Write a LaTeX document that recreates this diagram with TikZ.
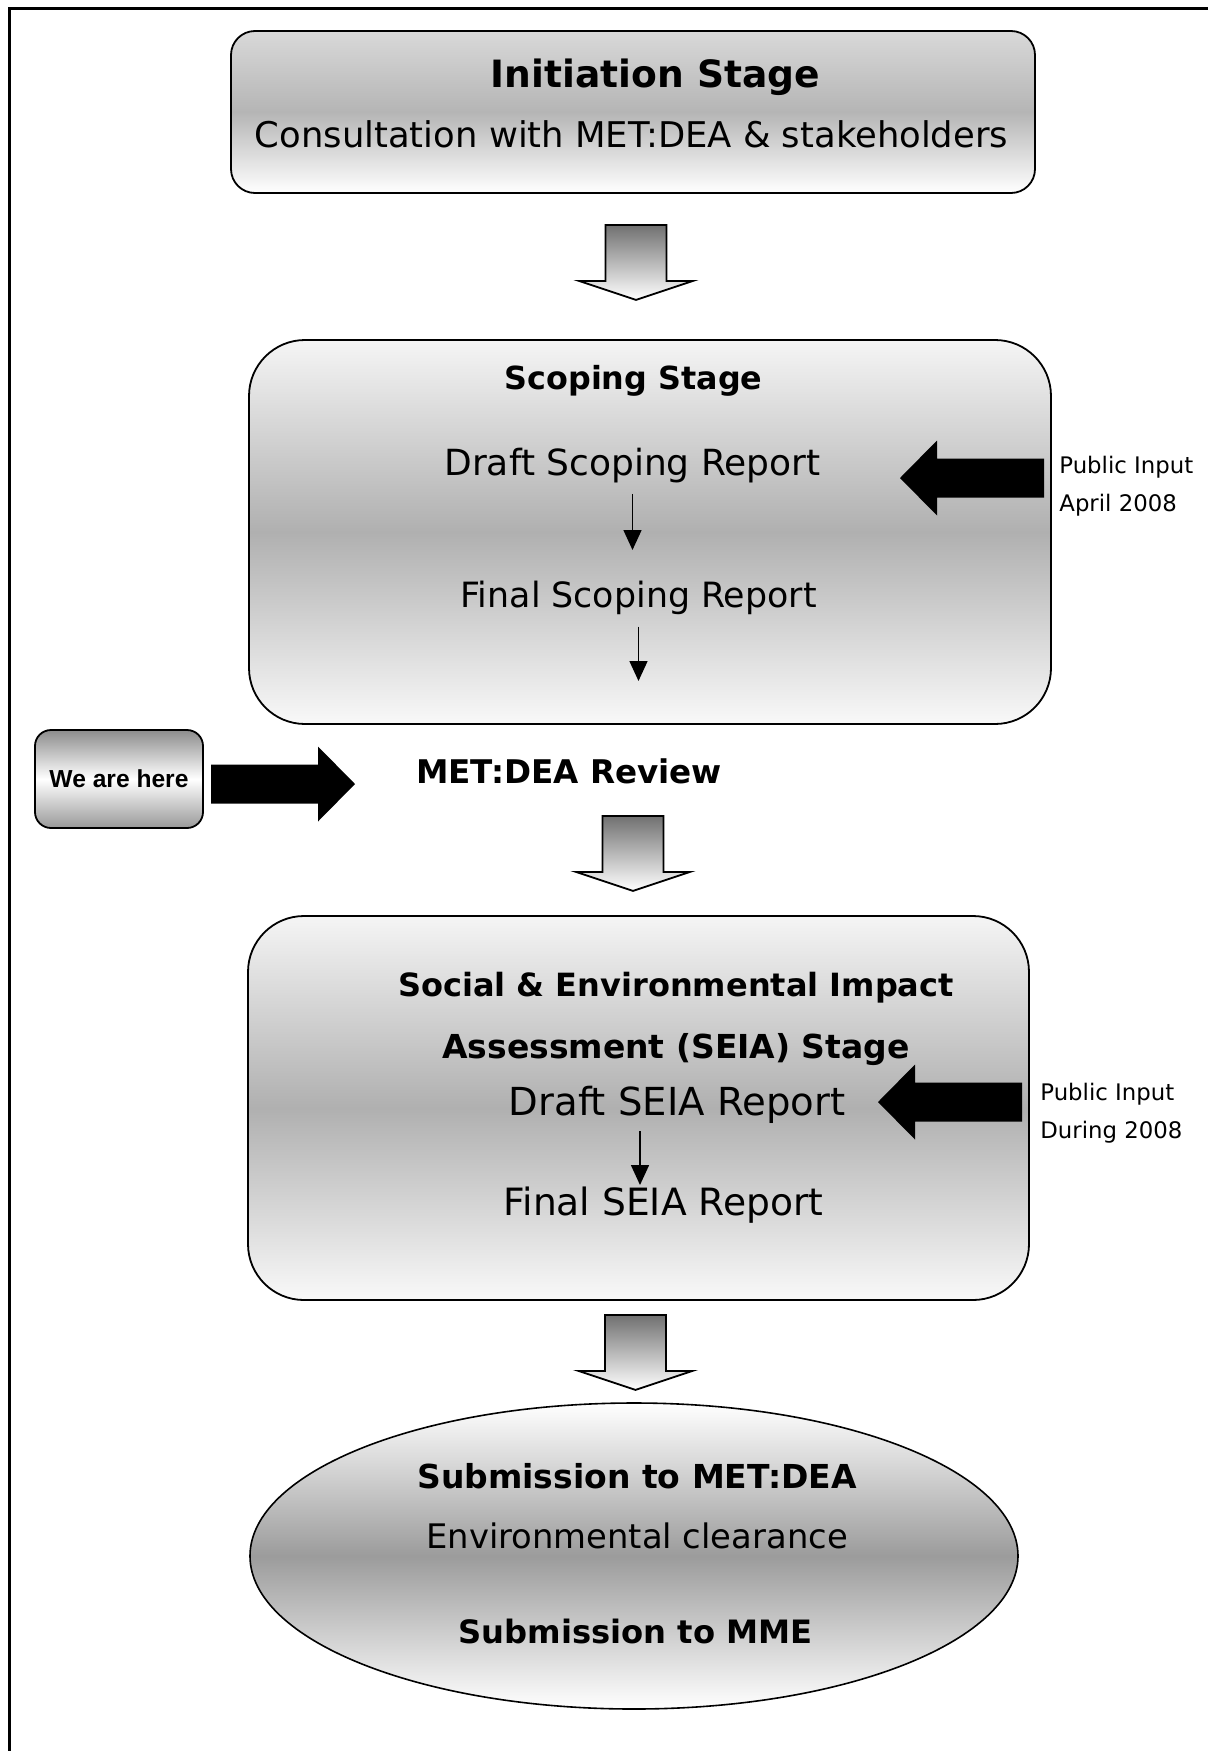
\documentclass[tikz,border=0pt]{standalone}
\usepackage{fontspec}
\setmainfont{DejaVu Sans}
\newfontfamily\arialfont{Liberation Sans}
\usetikzlibrary{arrows.meta,shapes.geometric}
\tikzset{
  stagebox/.style={
    draw,
    line width=0.9pt,
    rounded corners=28pt,
    inner sep=0pt,
    top color=gray!8,
    bottom color=gray!5,
    middle color=gray!62
  },
  initbox/.style={
    stagebox,
    rounded corners=12pt,
    top color=gray!30,
    bottom color=white,
    middle color=gray!58
  },
  herebox/.style={
    draw,
    line width=0.9pt,
    rounded corners=8pt,
    minimum width=84pt,
    minimum height=49pt,
    top color=gray!90,
    bottom color=gray!80,
    middle color=white,
    font=\arialfont\bfseries\fontsize{12.3}{14}\selectfont
  },
  endnode/.style={
    draw,
    ellipse,
    line width=0.8pt,
    inner sep=0pt,
    minimum width=384pt,
    minimum height=153pt,
    top color=white,
    bottom color=white,
    middle color=gray!78
  },
  head/.style={font=\fontsize{#1}{#1}\selectfont\bfseries, anchor=base, inner sep=0pt},
  body/.style={font=\fontsize{#1}{#1}\selectfont, anchor=base, inner sep=0pt},
  note/.style={font=\fontsize{11.4}{19}\selectfont, align=left, anchor=west, inner sep=0pt},
  flow/.style={line width=0.75pt, -{Triangle[length=10pt,width=9pt]}},
  downblock/.pic={
    \draw[line width=0.9pt, top color=black!56, bottom color=white]
      (-30.5,0) -- (30.5,0) -- (30.5,56) -- (57,56) -- (0,75) -- (-57,56) -- (-30.5,56) -- cycle;
  },
  fatarrow/.pic={
    \fill (0,-19.5) -- (107,-19.5) -- (107,-37.5) -- (144,0) -- (107,37.5) -- (107,19.5) -- (0,19.5) -- cycle;
  }
}

\begin{document}
\begin{tikzpicture}[x=0.5pt, y=-0.5pt]
\useasboundingbox (0,0) rectangle (1208,1751);

% frame
\draw[line width=1.5pt] (9.5,1751) -- (9.5,8.5) -- (1208,8.5);

% stages
\node[initbox, minimum width=402pt, minimum height=81pt] (init) at (633,112) {};
\node[stagebox, minimum width=401pt, minimum height=192pt] (scoping) at (650,532) {};
\node[stagebox, minimum width=390.5pt, minimum height=192pt] (seia) at (638.5,1108) {};
\node[endnode] (finish) at (634,1556) {};
\node[herebox] (here) at (119,779) {We are here};

% texts
\node[head=18.8] (inittitle) at (655.5,87) {Initiation Stage};
\node[body=17.7] (consult) at (631.5,147) {Consultation with MET:DEA \& stakeholders};

\node[head=15.9] (scopetitle) at (633.5,389) {Scoping Stage};
\node[body=18] (draftscope) at (632.5,475) {Draft Scoping Report};
\node[body=17.4] (finalscope) at (638.5,607) {Final Scoping Report};
\coordinate (scopeout) at (632,681);

\node[head=16.3] (review) at (569,783) {MET:DEA Review};

\node[head=16] (seiatitle) at (676,996) {Social \& Environmental Impact};
\node[head=16.5] (seiatitle2) at (676,1058) {Assessment (SEIA) Stage};
\node[body=19.3] (draftseia) at (677,1115) {Draft SEIA Report};
\node[body=18.8] (finalseia) at (663.5,1215) {Final SEIA Report};

\node[head=16.5] (submitmet) at (637,1488) {Submission to MET:DEA};
\node[body=16.9] (clearance) at (637,1548) {Environmental clearance};
\node[head=16.1] (submitmme) at (635.5,1643) {Submission to MME};

\node[note] (pubnote) at (1059,486) {Public Input\\April 2008};
\node[note] (pubnote2) at (1040,1113) {Public Input\\During 2008};

% flow arrows
\draw[flow] ([yshift=-5.5pt]draftscope.south) -- ([yshift=28.5pt]draftscope.south |- finalscope.base);
\draw[flow] ([yshift=-6pt]finalscope.south) -- (finalscope.south |- scopeout);
\draw[flow] ([xshift=-18.5pt,yshift=-4pt]draftseia.south) -- ([xshift=-18.5pt,yshift=15pt]draftseia.south |- finalseia.base);

\pic at ([xshift=1.5pt,yshift=-15.5pt]init.south) {downblock};
\pic at ([xshift=-8.5pt,yshift=-45.5pt]scoping.south) {downblock};
\pic at ([xshift=-1.5pt,yshift=-7pt]seia.south) {downblock};

\pic[rotate=180] at (1044,478) {fatarrow};
\pic[rotate=180] at (1022,1102) {fatarrow};
\pic at (211,784) {fatarrow};

\end{tikzpicture}
\end{document}
